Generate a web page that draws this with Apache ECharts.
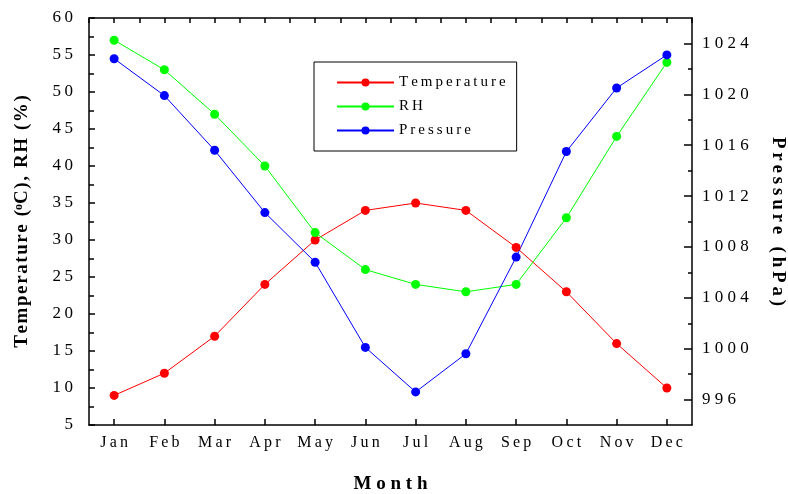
<!DOCTYPE html>
<html><head><meta charset="utf-8">
<script src="https://cdn.jsdelivr.net/npm/echarts@6/dist/echarts.min.js"></script>
<style>html,body{margin:0;padding:0;background:#fff}#c{width:788px;height:494px}</style>
</head><body><div id="c"></div>
<script>
const months = ['Jan','Feb','Mar','Apr','May','Jun','Jul','Aug','Sep','Oct','Nov','Dec'];
const temperature = [9,12,17,24,30,34,35,34,29,23,16,10];
const rh = [57,53,47,40,31,26,24,23,24,33,44,54];
const pressure = [1022.8,1019.9,1015.6,1010.7,1006.8,1000.1,996.6,999.6,1007.2,1015.5,1020.5,1023.1];
const pressureTicks = [996,1000,1004,1008,1012,1016,1020,1024];
const pressureMinorTicks = [998,1002,1006,1010,1014,1018,1022];
const seriesNames = ['Temperature','RH','Pressure'];

const FONT = 'Liberation Serif';
const THIN = '\u2009', HAIR = '\u200A';
const sp = (s, g) => String(s).split('').join(g === undefined ? ' ' : g);
const axisLine = {show:true, lineStyle:{color:'#000', width:1.5}};

const chart = echarts.init(document.getElementById('c'));
chart.setOption({
  animation:false,
  backgroundColor:'#fff',
  grid:{left:89, top:18, right:96, bottom:69, containLabel:false, outerBoundsMode:'none'},
  legend:{
    data:seriesNames, orient:'vertical', left:314, top:62,
    padding:[13,11,13,22], itemWidth:57, itemHeight:10, itemGap:9,
    borderColor:'#000', borderWidth:1,
    formatter:n=>sp(n, THIN),
    textStyle:{fontFamily:FONT, fontSize:15, color:'#000', lineHeight:14}
  },
  xAxis:[
    {type:'category', data:months, position:'bottom', boundaryGap:true,
     axisLine:axisLine, axisTick:{show:true, inside:true, alignWithLabel:true, length:6, lineStyle:{color:'#000', width:1.5}},
     axisLabel:{interval:0, formatter:v=>sp(v, THIN), fontFamily:FONT, fontSize:16, color:'#000', margin:10},
     name:sp('Month'), nameLocation:'middle', nameGap:50,
     nameTextStyle:{fontFamily:FONT, fontSize:19, fontWeight:'bold', color:'#000'},
     splitLine:{show:false}},
    {type:'category', data:months, position:'top', boundaryGap:true,
     axisLine:axisLine, axisTick:{show:true, inside:true, alignWithLabel:true, length:5, lineStyle:{color:'#000', width:1.5}},
     axisLabel:{show:false}, splitLine:{show:false}},
    {type:'category', data:months, position:'top', boundaryGap:true,
     axisLine:{show:false}, axisTick:{show:true, inside:true, length:5, lineStyle:{color:'#000', width:1.5}},
     axisLabel:{show:false}, splitLine:{show:false}}
  ],
  yAxis:[
    {type:'value', position:'left', min:5, max:60, interval:5,
     axisLine:axisLine, axisTick:{show:true, inside:true, length:6, lineStyle:{color:'#000', width:1.5}},
     minorTick:{show:true, splitNumber:2, length:5, lineStyle:{color:'#000', width:1.5}},
     axisLabel:{formatter:v=>sp(v, THIN), fontFamily:FONT, fontSize:17, color:'#000', margin:16},
     splitLine:{show:false}, minorSplitLine:{show:false},
     name:sp('Temperature (', HAIR) + '{sup|o}' + sp('C), RH (%)', HAIR),
     nameLocation:'middle', nameRotate:90, nameGap:57,
     nameTextStyle:{fontFamily:FONT, fontSize:19, fontWeight:'bold', color:'#000',
       rich:{sup:{fontFamily:FONT, fontSize:12, fontWeight:'bold', color:'#000', verticalAlign:'top'}}}},
    {type:'value', position:'right', min:994, max:1026,
     axisLine:axisLine,
     axisTick:{show:true, inside:true, length:8, customValues:pressureTicks, lineStyle:{color:'#000', width:1.5}},
     axisLabel:{customValues:pressureTicks, formatter:v=>sp(v), fontFamily:FONT, fontSize:17, color:'#000', margin:10},
     splitLine:{show:false},
     name:sp('Pressure (hPa)', THIN), nameLocation:'middle', nameRotate:-90, nameGap:76,
     nameTextStyle:{fontFamily:FONT, fontSize:19, fontWeight:'bold', color:'#000'}},
    {type:'value', position:'right', min:994, max:1026,
     axisLine:{show:false},
     axisTick:{show:true, inside:true, length:4, customValues:pressureMinorTicks, lineStyle:{color:'#000', width:1.5}},
     axisLabel:{show:false}, splitLine:{show:false}}
  ],
  series:[
    {name:seriesNames[0], type:'line', data:temperature, xAxisIndex:0, yAxisIndex:0,
     symbol:'circle', symbolSize:9, color:'#ff0000', lineStyle:{width:1, color:'#ff0000'}},
    {name:seriesNames[1], type:'line', data:rh, xAxisIndex:0, yAxisIndex:0,
     symbol:'circle', symbolSize:9, color:'#00ff00', lineStyle:{width:1, color:'#00ff00'}},
    {name:seriesNames[2], type:'line', data:pressure, xAxisIndex:0, yAxisIndex:1,
     symbol:'circle', symbolSize:9, color:'#0000ff', lineStyle:{width:1, color:'#0000ff'}}
  ]
});
</script></body></html>
